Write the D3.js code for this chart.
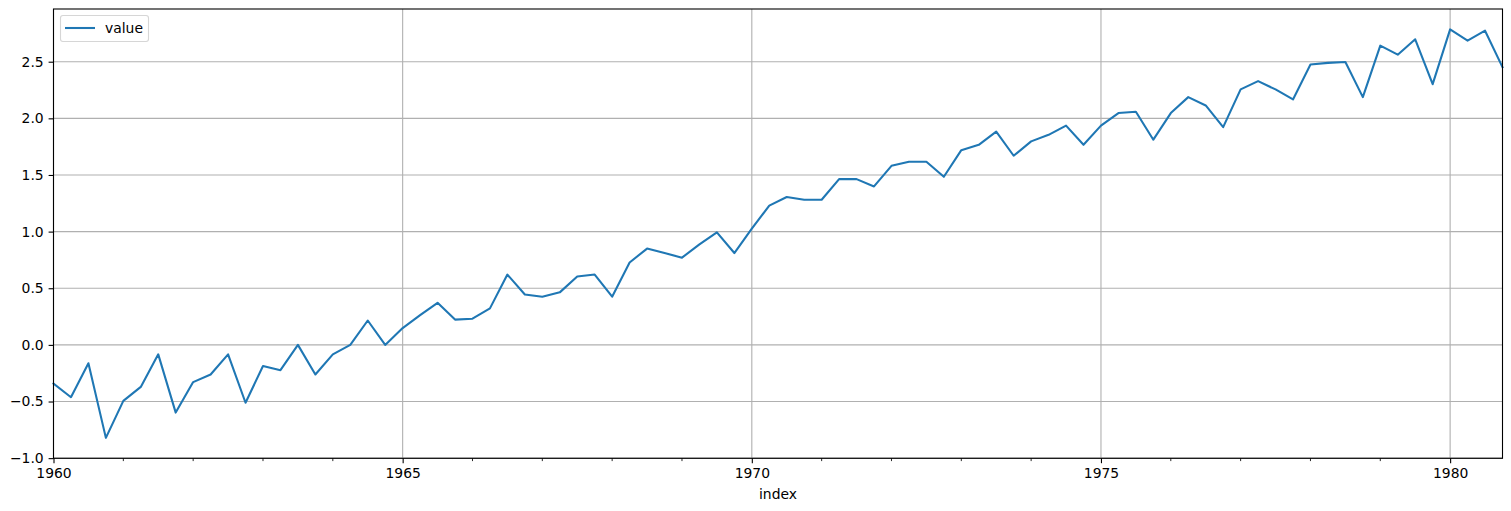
<!DOCTYPE html>
<html><head><meta charset="utf-8">
<script src="https://cdn.jsdelivr.net/npm/d3@7"></script>
<style>body{margin:0;background:#fff}svg{display:block}text{font-family:"DejaVu Sans",sans-serif}</style>
</head><body><svg id="c" width="1511" height="511"></svg>
<script>
const startYear = 1960;
const quarters = ["Q1","Q2","Q3","Q4"];
const years = d3.range(1960, 1981);
const values = [
 -0.3425,-0.4620,-0.1625,-0.8210,
 -0.4943,-0.3711,-0.0834,-0.5978,
 -0.3285,-0.2614,-0.0834,-0.5108,
 -0.1863,-0.2231,0.0000,-0.2614,
 -0.0834,0.0000,0.2151,0.0000,
 0.1484,0.2624,0.3716,0.2231,
 0.2311,0.3221,0.6206,0.4447,
 0.4253,0.4637,0.6043,0.6206,
 0.4253,0.7275,0.8502,0.8109,
 0.7701,0.8879,0.9933,0.8109,
 1.0260,1.2296,1.3056,1.2809,
 1.2809,1.4633,1.4633,1.3987,
 1.5810,1.6174,1.6174,1.4839,
 1.7192,1.7664,1.8825,1.6696,
 1.7967,1.8547,1.9359,1.7664,
 1.9359,2.0464,2.0580,1.8116,
 2.0464,2.1872,2.1138,1.9228,
 2.2555,2.3282,2.2555,2.1668,
 2.4749,2.4899,2.4973,2.1872,
 2.6419,2.5619,2.6980,2.3016,
 2.7850,2.6858,2.7738,2.4518
];
const yTicks = [-1.0,-0.5,0.0,0.5,1.0,1.5,2.0,2.5];
const xMajorTicks = [1960,1965,1970,1975,1980];
const seriesName = "value";
const xLabel = "index";

const data = values.map((v,i)=>({t: startYear + i/4, v}));
const m = {l:53.5, r:1502.5, t:9, b:458.3};
const svg = d3.select("#c");
const tMax = data[data.length-1].t;
const x = d3.scaleLinear().domain([startYear, tMax]).range([m.l, m.r]);
const vmin = d3.min(values), vmax = d3.max(values), pad = (vmax-vmin)*0.05;
const y = d3.scaleLinear().domain([vmin-pad, vmax+pad]).range([m.b, m.t]);

const fmt = d3.format(".1f");
const g = svg.append("g");
// grid
g.selectAll(".gy").data(yTicks).join("line").attr("x1",m.l).attr("x2",m.r)
 .attr("y1",d=>y(d)).attr("y2",d=>y(d)).attr("stroke","#b0b0b0").attr("stroke-width",1.1);
g.selectAll(".gx").data(xMajorTicks).join("line").attr("y1",m.t).attr("y2",m.b)
 .attr("x1",d=>x(d)).attr("x2",d=>x(d)).attr("stroke","#b0b0b0").attr("stroke-width",1.1);

// line
svg.append("path").datum(data).attr("fill","none").attr("stroke","#1f77b4").attr("stroke-width",2.08)
 .attr("stroke-linejoin","round").attr("stroke-linecap","square")
 .attr("d", d3.line().x(d=>x(d.t)).y(d=>y(d.v)));

// axes
const yAxis = d3.axisLeft(y).tickValues(yTicks).tickFormat(d=>fmt(d).replace("-","\u2212")).tickSize(4.9).tickPadding(4.9);
const ya = svg.append("g").attr("transform",`translate(${m.l},0)`).call(yAxis);
const xAxis = d3.axisBottom(x).tickValues(xMajorTicks).tickFormat(d3.format("d")).tickSize(4.9).tickPadding(4.9);
const xa = svg.append("g").attr("transform",`translate(0,${m.b})`).call(xAxis);
const minor = years.filter(yr=>!xMajorTicks.includes(yr) && yr<=tMax);
svg.append("g").selectAll("line").data(minor).join("line").attr("x1",d=>x(d)).attr("x2",d=>x(d))
 .attr("y1",m.b).attr("y2",m.b+2.8).attr("stroke","#000").attr("stroke-width",0.85);
[ya,xa].forEach(a=>{a.select(".domain").remove();
 a.selectAll("text").attr("font-size","13.9px").attr("fill","#000").attr("font-family","DejaVu Sans");
 a.selectAll("line").attr("stroke","#000").attr("stroke-width",1.1);});

// frame
svg.append("rect").attr("x",m.l).attr("y",m.t).attr("width",m.r-m.l).attr("height",m.b-m.t)
 .attr("fill","none").attr("stroke","#000").attr("stroke-width",1.1);

svg.append("text").attr("x",(m.l+m.r)/2).attr("y",499).attr("text-anchor","middle")
 .attr("font-size","13.9px").text(xLabel);

// legend
const lg = svg.append("g");
lg.append("rect").attr("x",60.5).attr("y",15.5).attr("width",88).attr("height",26).attr("rx",2.5)
 .attr("fill","#fff").attr("fill-opacity",0.8).attr("stroke","#d6d6d6").attr("stroke-width",1.1);
lg.append("line").attr("x1",65).attr("x2",95).attr("y1",28).attr("y2",28).attr("stroke","#1f77b4").attr("stroke-width",2.08);
lg.append("text").attr("x",105).attr("y",33).attr("font-size","13.9px").text(seriesName);
</script></body></html>
